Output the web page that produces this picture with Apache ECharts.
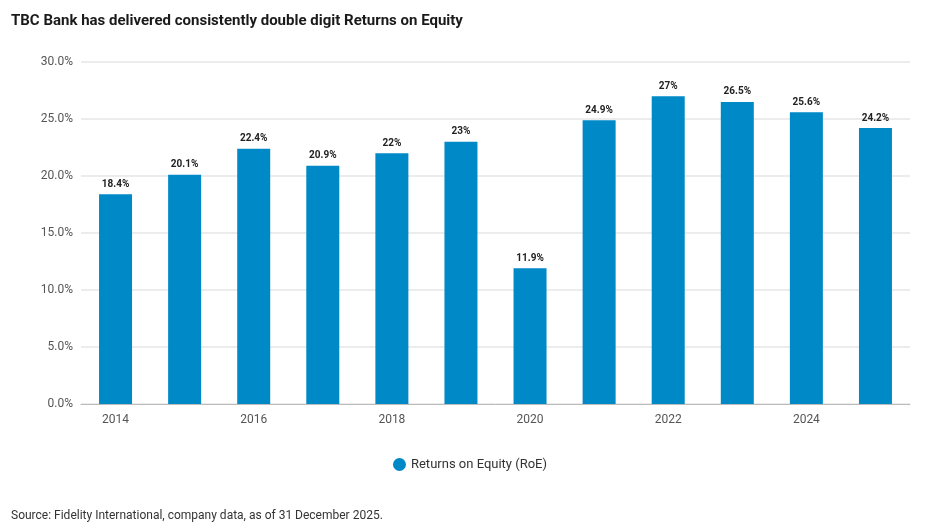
<!DOCTYPE html>
<html>
<head>
<meta charset="utf-8">
<title>TBC Bank RoE</title>
<script src="https://cdn.jsdelivr.net/npm/echarts@6/dist/echarts.min.js"></script>
<style>
  body { margin: 0; background: #fff; }
  #main { width: 940px; height: 532px; }
</style>
</head>
<body>
<div id="main"></div>
<script>
var years = ['2014','2015','2016','2017','2018','2019','2020','2021','2022','2023','2024','2025'];
var roe = [18.4, 20.1, 22.4, 20.9, 22, 23, 11.9, 24.9, 27, 26.5, 25.6, 24.2];
var font = 'Roboto, "Noto Sans", sans-serif';

var chart = echarts.init(document.getElementById('main'));
chart.setOption({
  animation: false,
  textStyle: { fontFamily: font },
  title: [
    { text: 'TBC Bank has delivered consistently double digit Returns on Equity', left: 6, top: 9,
      textStyle: { fontSize: 15, fontWeight: 'bold', color: '#1a1a1a', fontFamily: font } },
    { text: 'Source: Fidelity International, company data, as of 31 December 2025.', left: 6, top: 505,
      textStyle: { fontSize: 12, fontWeight: 'normal', color: '#333', fontFamily: font } }
  ],
  legend: {
    bottom: 56, left: 'center', icon: 'circle', itemWidth: 13, itemHeight: 13,
    textStyle: { fontSize: 13, color: '#333' }
  },
  grid: { left: 81, right: 30, top: 62, bottom: 128 },
  xAxis: {
    type: 'category', data: years,
    axisTick: { show: false },
    axisLine: { lineStyle: { color: '#bbb' } },
    axisLabel: { interval: 1, color: '#555', fontSize: 12, margin: 10 }
  },
  yAxis: {
    type: 'value', min: 0, max: 30, interval: 5,
    axisLabel: { formatter: function (v) { return v.toFixed(1) + '%'; }, color: '#555', fontSize: 12 },
    splitLine: { lineStyle: { color: '#e6e6e6', width: 1.5 } }
  },
  series: [{
    name: 'Returns on Equity (RoE)', type: 'bar', data: roe, barWidth: 33,
    itemStyle: { color: '#0089c7' },
    label: { show: true, position: 'top', formatter: '{c}%', fontSize: 10, fontWeight: 'bold', color: '#222', distance: 5 }
  }]
});
</script>
</body>
</html>
